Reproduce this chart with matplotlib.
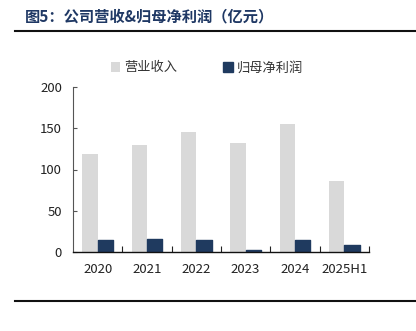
import matplotlib
matplotlib.use("Agg")
import matplotlib.pyplot as plt
import numpy as np

plt.rcParams['font.family'] = ['Noto Sans CJK SC', 'DejaVu Sans']

years = ["2020", "2021", "2022", "2023", "2024", "2025H1"]
revenue = [119, 130, 146, 132, 155, 86]
net_profit = [14, 16, 14, 2, 14, 9]
yticks = [0, 50, 100, 150, 200]

fig = plt.figure(figsize=(4.16, 3.31), dpi=100)
ax = fig.add_axes([73/416, 1 - 252/331, (369 - 73)/416, (252 - 87)/331])

x = np.arange(len(years))
w = 0.31
ax.bar(x - w/2, revenue, width=w, color="#D9D9D9", label="营业收入", zorder=2)
ax.bar(x + w/2, net_profit, width=w, color="#1F3A5F", label="归母净利润", zorder=2,
       edgecolor="#1F3A5F", linewidth=1.0, joinstyle="round")

ax.set_xlim(-0.5, len(years) - 0.5)
ax.set_ylim(0, 200)
ax.set_yticks(yticks)
ax.set_yticklabels([str(v) for v in yticks], fontsize=9.5, color="#222222")
ax.set_xticks(x)
ax.set_xticklabels(years, fontsize=9.5, color="#222222")
ax.tick_params(axis="x", length=0, pad=8)
ax.set_xticks(np.arange(len(years)) + 0.5, minor=True)
ax.tick_params(axis="x", which="minor", direction="in", length=4, width=0.8, color="#222222")
ax.tick_params(axis="y", direction="in", length=3, width=0.8, color="#555555", pad=8)

for s in ["top", "right"]:
    ax.spines[s].set_visible(False)
ax.spines["left"].set_color("#555555")
ax.spines["left"].set_linewidth(0.8)
ax.spines["bottom"].set_color("#111111")
ax.spines["bottom"].set_linewidth(1.0)

leg = fig.legend(loc="center", bbox_to_anchor=(207/416, 1 - 68/331), ncol=2,
                 frameon=False, fontsize=9.5, handlelength=0.7, handleheight=0.7,
                 handletextpad=0.3, columnspacing=3.5)
for t in leg.get_texts():
    t.set_color("#333333")

fig.text(25/416, 1 - 16/331, "图5：公司营收&归母净利润（亿元）", fontsize=11,
         fontweight="bold", color="#1F3864", va="center", ha="left")
fig.add_artist(plt.Line2D([15/416, 1.0], [1 - 31/331, 1 - 31/331],
                          color="#111111", linewidth=1.5))
fig.add_artist(plt.Line2D([15/416, 1.0], [1 - 300.5/331, 1 - 300.5/331],
                          color="#111111", linewidth=1.5))

fig.savefig("out.png", dpi=100, facecolor="white")
